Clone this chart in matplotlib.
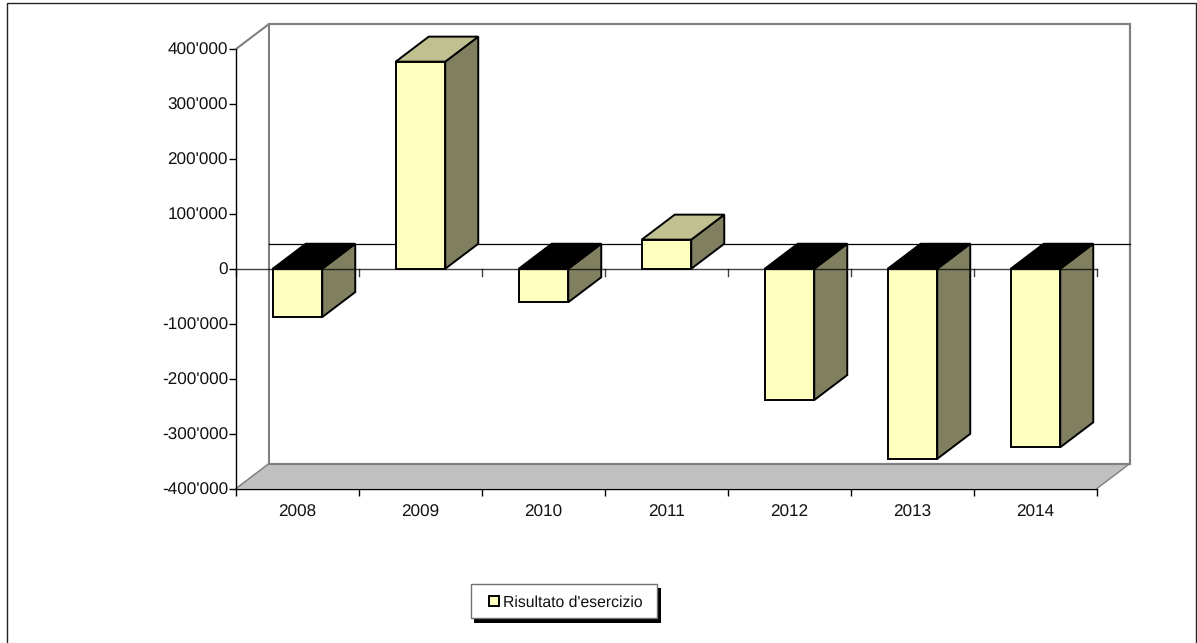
import matplotlib
matplotlib.use("Agg")
import matplotlib.pyplot as plt
from matplotlib.patches import Polygon, Rectangle

years = ["2008", "2009", "2010", "2011", "2012", "2013", "2014"]
risultato = [-88000, 377000, -61000, 53000, -239000, -346000, -325000]
y_ticks = [-400000, -300000, -200000, -100000, 0, 100000, 200000, 300000, 400000]
y_labels = ["-400'000", "-300'000", "-200'000", "-100'000", "0",
            "100'000", "200'000", "300'000", "400'000"]
series_name = "Risultato d'esercizio"

W, H = 1197, 643
plt.rcParams["font.family"] = ["Liberation Sans", "DejaVu Sans"]
plt.rcParams["text.hinting"] = "no_hinting"

FRONT = "#ffffc0"
SIDE = "#808060"
TOP = "#c0c090"
FLOOR = "#c0c0c0"
WALL = "#808080"
INK = "#111111"
LABEL_SIZE = 12.3

fig = plt.figure(figsize=(W / 100, H / 100), dpi=100, facecolor="white")

# Outer chart frame, in pixel coordinates of the figure
frame = fig.add_axes([0, 0, 1, 1], zorder=0)
frame.set_xlim(0, W)
frame.set_ylim(H, 0)
frame.axis("off")
frame.plot([6.5, 6.5, 1195.8, 1195.8], [H, 3.3, 3.3, H], color="#222222", lw=1.0,
           clip_on=False, solid_joinstyle="miter")

# Front plane of the 3D box
x0, x1, y_top, y_bot = 236.0, 1097.0, 49.0, 488.5
ax = fig.add_axes([x0 / W, 1 - y_bot / H, (x1 - x0) / W, (y_bot - y_top) / H],
                  zorder=1, facecolor="none")
ax.set_xlim(0, len(years))
ax.set_ylim(-400000, 400000)

# Depth offset of the box expressed in data units
px_x = len(years) / (x1 - x0)
px_y = 800000 / (y_bot - y_top)
dx, dy = 33 * px_x, 25 * px_y
lo, hi = -400000, 400000
n = len(years)

# Back wall, left wall and floor
ax.add_patch(Polygon([(0, lo), (n, lo), (n + dx, lo + dy), (dx, lo + dy)], closed=True,
                     fc=FLOOR, ec="none", zorder=1, clip_on=False))
ax.plot([0, dx, dx], [hi, hi + dy, lo + dy], color=WALL, lw=1.5, zorder=2, clip_on=False,
        solid_joinstyle="miter")
ax.plot([dx, n + dx, n + dx, dx], [hi + dy, hi + dy, lo + dy, lo + dy], color=WALL, lw=1.6,
        zorder=2, clip_on=False, solid_joinstyle="miter")
ax.plot([0, dx], [lo, lo + dy], color=WALL, lw=1.1, zorder=2, clip_on=False)
ax.plot([n, n + dx], [lo, lo + dy], color=WALL, lw=1.0, zorder=2, clip_on=False)

# Zero level on the back wall
ax.plot([dx, n + dx], [dy, dy], color="black", lw=0.9, zorder=3, clip_on=False)

# Columns: front face through bar(), side and cap from the same values
bar_w = 49.5 * px_x
edge = 1.4
for i, v in enumerate(risultato):
    c = i + 0.5
    l, r = c - bar_w / 2, c + bar_w / 2
    ax.add_patch(Polygon([(r, 0), (r + dx, dy), (r + dx, v + dy), (r, v)], closed=True,
                         fc=SIDE, ec="black", lw=edge, zorder=4, clip_on=False,
                         joinstyle="miter"))
    upper = max(v, 0)
    ax.add_patch(Polygon([(l, upper), (r, upper), (r + dx, upper + dy), (l + dx, upper + dy)],
                         closed=True, fc=TOP if v > 0 else "black", ec="black", lw=edge,
                         zorder=4, clip_on=False, joinstyle="miter"))
    ax.bar(c, v, width=bar_w, color=FRONT, edgecolor="black", linewidth=edge, zorder=5,
           clip_on=False)

# Axes and ticks
for s in ("top", "right"):
    ax.spines[s].set_visible(False)
for s in ("left", "bottom"):
    ax.spines[s].set_linewidth(1.0)
    ax.spines[s].set_zorder(6)
ax.plot([0, n], [0, 0], color="black", lw=1.0, alpha=0.75, zorder=6, clip_on=False)
ax.set_yticks(y_ticks)
ax.set_yticklabels(y_labels, fontsize=LABEL_SIZE, color=INK)
ax.set_xticks(range(n + 1))
ax.set_xticklabels([])
ax.set_xticks([i + 0.5 for i in range(n)], labels=years, minor=True, fontsize=LABEL_SIZE,
              color=INK)
ax.tick_params(axis="y", length=5, width=1.0, pad=0.8)
ax.tick_params(axis="x", which="major", length=5, width=1.0)
ax.tick_params(axis="x", which="minor", length=0, pad=11.5)
for i in range(n + 1):
    ax.plot([i, i], [0, -7 * px_y], color="black", lw=1.0, alpha=0.75, zorder=6, clip_on=False)

# Legend box with drop shadow
frame.set_zorder(2)
frame.add_patch(Rectangle((474, 588), 187, 34.5, fc="black", ec="none"))
frame.add_patch(Rectangle((470.5, 584), 186, 34, fc="white", ec="#707070", lw=1.0))
frame.add_patch(Rectangle((488.5, 596), 10, 10, fc=FRONT, ec="black", lw=1.4))
frame.text(503, 602.3, series_name, fontsize=11.3, color=INK, va="center", ha="left")

fig.savefig("out.png", dpi=100)
